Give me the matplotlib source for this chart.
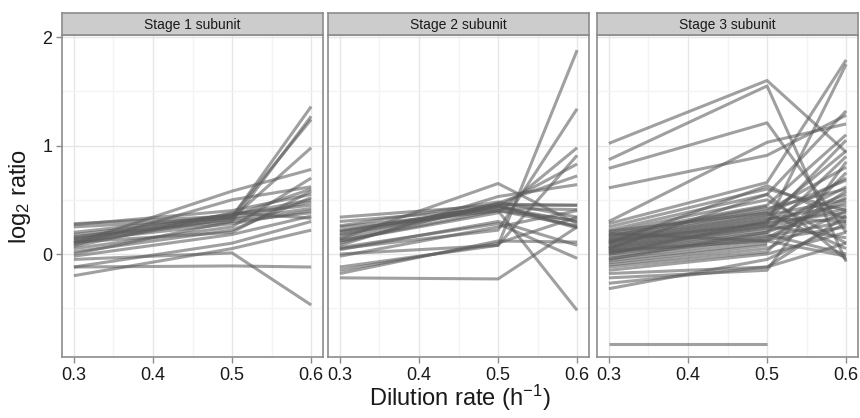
import numpy as np
import matplotlib
matplotlib.use("Agg")
import matplotlib.pyplot as plt
from matplotlib.ticker import FixedLocator

plt.rcParams['font.family'] = ['Liberation Sans', 'DejaVu Sans']
plt.rcParams['mathtext.fontset'] = 'custom'
plt.rcParams['mathtext.rm'] = 'Liberation Sans'
plt.rcParams['mathtext.it'] = 'Liberation Sans:italic'

dilution = [0.3, 0.5, 0.6]
stages = ["Stage 1 subunit", "Stage 2 subunit", "Stage 3 subunit"]

# log2 ratio per protein at D = 0.3, 0.5, 0.6 (nan = not measured)
nan = np.nan
stage1 = [
    (0.28, 0.35, 0.60), (0.27, 0.40, 0.55), (0.25, 0.33, 0.48), (0.20, 0.36, 0.50),
    (0.18, 0.34, 1.36), (0.16, 0.30, 1.27), (0.15, 0.37, 0.45), (0.14, 0.32, 0.42),
    (0.13, 0.35, 1.24), (0.12, 0.28, 0.40), (0.10, 0.58, 0.78), (0.08, 0.50, 0.62),
    (0.10, 0.33, 0.98), (0.05, 0.25, 0.70), (0.02, 0.22, 0.52), (0.00, 0.30, 0.38),
    (-0.02, 0.18, 0.35), (-0.05, 0.01, -0.47), (-0.12, 0.10, 0.30), (-0.12, -0.11, -0.12),
    (-0.20, 0.05, 0.22), (0.11, 0.20, 0.58), (0.07, 0.38, 0.33),
]
stage2 = [
    (0.34, 0.45, 0.45), (0.30, 0.42, 0.41), (0.26, 0.48, 0.34), (0.22, 0.40, 0.31),
    (0.20, 0.45, 0.25), (0.18, 0.43, 0.30), (0.00, 0.08, 1.88), (0.05, 0.22, 1.34),
    (0.12, 0.38, 0.98), (-0.12, 0.08, 0.91), (0.14, 0.44, 0.83), (0.10, 0.47, 0.72),
    (0.08, 0.53, 0.64), (-0.22, -0.23, 0.25), (0.14, 0.65, 0.28), (0.12, 0.40, -0.52),
    (0.25, 0.40, 0.26), (-0.02, 0.25, 0.40), (-0.15, 0.10, 0.34), (-0.18, 0.12, 0.11),
    (0.04, 0.30, 0.08), (0.06, 0.28, -0.04), (0.17, 0.46, 0.45), (0.21, 0.44, 0.24),
]
stage3 = [
    (1.02, 1.60, 0.94), (0.87, 1.55, -0.07), (0.79, 1.21, 0.20), (0.61, 0.91, 1.28),
    (0.30, 1.03, 1.20), (-0.83, -0.83, nan), (0.28, 0.66, 1.79), (0.25, 0.60, 0.40),
    (0.22, 0.55, 1.32), (0.20, 0.50, 0.10), (0.18, 0.45, 1.10), (0.17, 0.42, 0.60),
    (0.15, 0.40, 0.80), (0.14, 0.38, 0.05), (0.13, 0.36, 0.50), (0.12, 0.35, 0.95),
    (0.11, 0.33, 0.30), (0.10, 0.32, 0.45), (0.09, 0.30, 0.70), (0.08, 0.29, 0.38),
    (0.07, 0.27, 0.55), (0.06, 0.26, 0.15), (0.05, 0.25, 0.42), (0.04, 0.24, 0.62),
    (0.03, 0.22, 0.35), (0.02, 0.20, 0.48), (0.01, 0.18, 0.00), (0.00, 0.16, 0.30),
    (-0.02, 0.15, 0.52), (-0.04, 0.13, 0.25), (-0.06, 0.10, nan), (-0.08, 0.08, nan),
    (-0.10, 0.05, 0.40), (-0.12, 0.02, 0.75), (-0.15, 0.00, 0.20), (-0.18, -0.12, 0.35),
    (-0.22, -0.15, 0.85), (-0.27, -0.12, 0.10), (-0.32, -0.05, 0.28), (0.16, 0.44, nan),
    (0.19, 0.12, 0.58), (0.10, 0.63, 0.32), (0.05, 0.55, -0.05), (0.21, 0.38, 0.68),
    (0.00, 0.30, 1.05), (-0.05, 0.20, 0.90), (0.12, 0.28, 1.75), (0.03, 0.12, -0.02),
]
data = [stage1, stage2, stage3]

W, H = 860, 418
fig = plt.figure(figsize=(W / 100, H / 100), dpi=100)

panel_left = [62, 328, 597]
panel_w = 261
panel_top, panel_bot = 35, 357
strip_top = 13

for i, (name, rows) in enumerate(zip(stages, data)):
    x0 = panel_left[i] / W
    ax = fig.add_axes([x0, (H - panel_bot) / H, panel_w / W, (panel_bot - panel_top) / H])
    ax.set_facecolor('white')
    for r in rows:
        ax.plot(dilution, r, color='#5c5c5c', alpha=0.58, lw=2.2,
                solid_capstyle='butt', solid_joinstyle='round')
    ax.set_xlim(0.285, 0.615)
    ax.set_ylim(-0.95, 2.02)
    ax.xaxis.set_major_locator(FixedLocator([0.3, 0.4, 0.5, 0.6]))
    ax.xaxis.set_minor_locator(FixedLocator([0.35, 0.45, 0.55]))
    ax.yaxis.set_major_locator(FixedLocator([0, 1, 2]))
    ax.yaxis.set_minor_locator(FixedLocator([-0.5, 0.5, 1.5]))
    ax.set_xticklabels(['0.3', '0.4', '0.5', '0.6'])
    ax.grid(which='major', color='#e6e6e6', lw=1.0)
    ax.grid(which='minor', color='#f4f4f4', lw=1.0)
    ax.set_axisbelow(True)
    for s in ax.spines.values():
        s.set_color('#8c8c8c')
        s.set_linewidth(1.2)
    ax.tick_params(which='major', length=4, width=1.0, color='#8c8c8c',
                   labelsize=13, labelcolor='#1a1a1a', pad=3)
    ax.tick_params(which='minor', length=0)
    if i == 0:
        ax.set_yticklabels(['0', '1', '2'])
    else:
        ax.tick_params(axis='y', which='major', length=0, labelleft=False)

    # facet strip
    sax = fig.add_axes([x0, (H - panel_top) / H, panel_w / W, (panel_top - strip_top) / H])
    sax.set_facecolor('#cccccc')
    sax.set_xticks([])
    sax.set_yticks([])
    for s in sax.spines.values():
        s.set_color('#8c8c8c')
        s.set_linewidth(1.2)
    sax.text(0.5, 0.47, name, ha='center', va='center', fontsize=10,
             color='#1a1a1a', transform=sax.transAxes)

fig.text(460 / W, 1 - 398 / H, 'Dilution rate (h$^{-1}$)', ha='center', va='center',
         fontsize=17, color='#1a1a1a')
fig.text(20 / W, 1 - 196 / H, 'log$_2$ ratio', ha='center', va='center',
         rotation=90, fontsize=17, color='#1a1a1a')

fig.savefig('out.png', dpi=100)
